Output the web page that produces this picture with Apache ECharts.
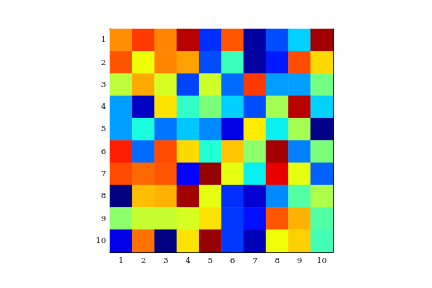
<!DOCTYPE html>
<html><head><meta charset="utf-8">
<script src="https://cdn.jsdelivr.net/npm/echarts@6/dist/echarts.min.js"></script>
<style>html,body{margin:0;padding:0;background:#fff}#c{width:432px;height:288px}</style>
</head><body><div id="c"></div>
<script>
const xLabels = ['1','2','3','4','5','6','7','8','9','10'];
const yLabels = ['1','2','3','4','5','6','7','8','9','10'];
const row1  = [0.76,0.85,0.77,0.95,0.17,0.82,0.03,0.20,0.33,0.97];
const row2  = [0.82,0.64,0.77,0.74,0.20,0.42,0.03,0.15,0.83,0.68];
const row3  = [0.58,0.73,0.61,0.19,0.60,0.23,0.85,0.28,0.28,0.49];
const row4  = [0.28,0.06,0.67,0.41,0.50,0.33,0.20,0.55,0.95,0.33];
const row5  = [0.28,0.38,0.24,0.32,0.26,0.09,0.66,0.36,0.55,0.01];
const row6  = [0.88,0.23,0.83,0.68,0.39,0.70,0.52,0.97,0.25,0.50];
const row7  = [0.83,0.80,0.82,0.11,0.98,0.63,0.36,0.91,0.63,0.22];
const row8  = [0.00,0.71,0.72,0.97,0.63,0.17,0.07,0.26,0.45,0.56];
const row9  = [0.52,0.59,0.59,0.61,0.67,0.18,0.14,0.82,0.72,0.45];
const row10 = [0.09,0.79,0.00,0.67,0.98,0.18,0.05,0.64,0.69,0.43];
const rows = [row1,row2,row3,row4,row5,row6,row7,row8,row9,row10];

const data = [];
rows.forEach((r, yi) => r.forEach((v, xi) => data.push([xi, yi, v])));

// jet colormap stops (matplotlib segment definition)
function seg(pts, t){
  for (let i=1;i<pts.length;i++){
    if (t <= pts[i][0]){ const a=pts[i-1], b=pts[i]; return a[1] + (b[1]-a[1])*(t-a[0])/(b[0]-a[0]); }
  }
  return pts[pts.length-1][1];
}
const R=[[0,0],[0.35,0],[0.66,1],[0.89,1],[1,0.5]];
const G=[[0,0],[0.125,0],[0.375,1],[0.64,1],[0.91,0],[1,0]];
const B=[[0,0.5],[0.11,1],[0.34,1],[0.65,0],[1,0]];
const jet=[];
for(let i=0;i<=100;i++){const t=i/100;jet.push('rgb('+Math.round(seg(R,t)*255)+','+Math.round(seg(G,t)*255)+','+Math.round(seg(B,t)*255)+')');}

const lab = {fontFamily:'DejaVu Serif', fontSize:8, color:'#000'};
const grid = {left:110, top:29, width:223, height:223};
const chart = echarts.init(document.getElementById('c'), null, {renderer:'canvas'});
chart.setOption({
  animation:false,
  grid: grid,
  xAxis: [
    {type:'category', data:xLabels, position:'bottom', axisLine:{show:true,lineStyle:{color:'#000',width:1}},
     axisTick:{show:true, inside:true, length:3, alignWithLabel:true, lineStyle:{color:'#000'}},
     axisLabel:Object.assign({margin:5}, lab), splitLine:{show:false}},
    {type:'category', data:xLabels, position:'top', axisLine:{show:true,lineStyle:{color:'#000',width:1}},
     axisTick:{show:true, inside:true, length:3, alignWithLabel:true, lineStyle:{color:'#000'}},
     axisLabel:{show:false}, splitLine:{show:false}}
  ],
  yAxis: [
    {type:'category', data:yLabels, inverse:true, position:'left', axisLine:{show:true,lineStyle:{color:'#000',width:1}},
     axisTick:{show:true, inside:true, length:3, alignWithLabel:true, lineStyle:{color:'#000'}},
     axisLabel:Object.assign({margin:4}, lab), splitLine:{show:false}},
    {type:'category', data:yLabels, inverse:true, position:'right', axisLine:{show:true,lineStyle:{color:'#000',width:1}},
     axisTick:{show:true, inside:true, length:3, alignWithLabel:true, lineStyle:{color:'#000'}},
     axisLabel:{show:false}, splitLine:{show:false}}
  ],
  visualMap: {show:false, min:0, max:1, dimension:2, inRange:{color:jet}},
  series: [{type:'heatmap', data:data, xAxisIndex:0, yAxisIndex:0, itemStyle:{borderWidth:0}, z:1}]
});
</script></body></html>
